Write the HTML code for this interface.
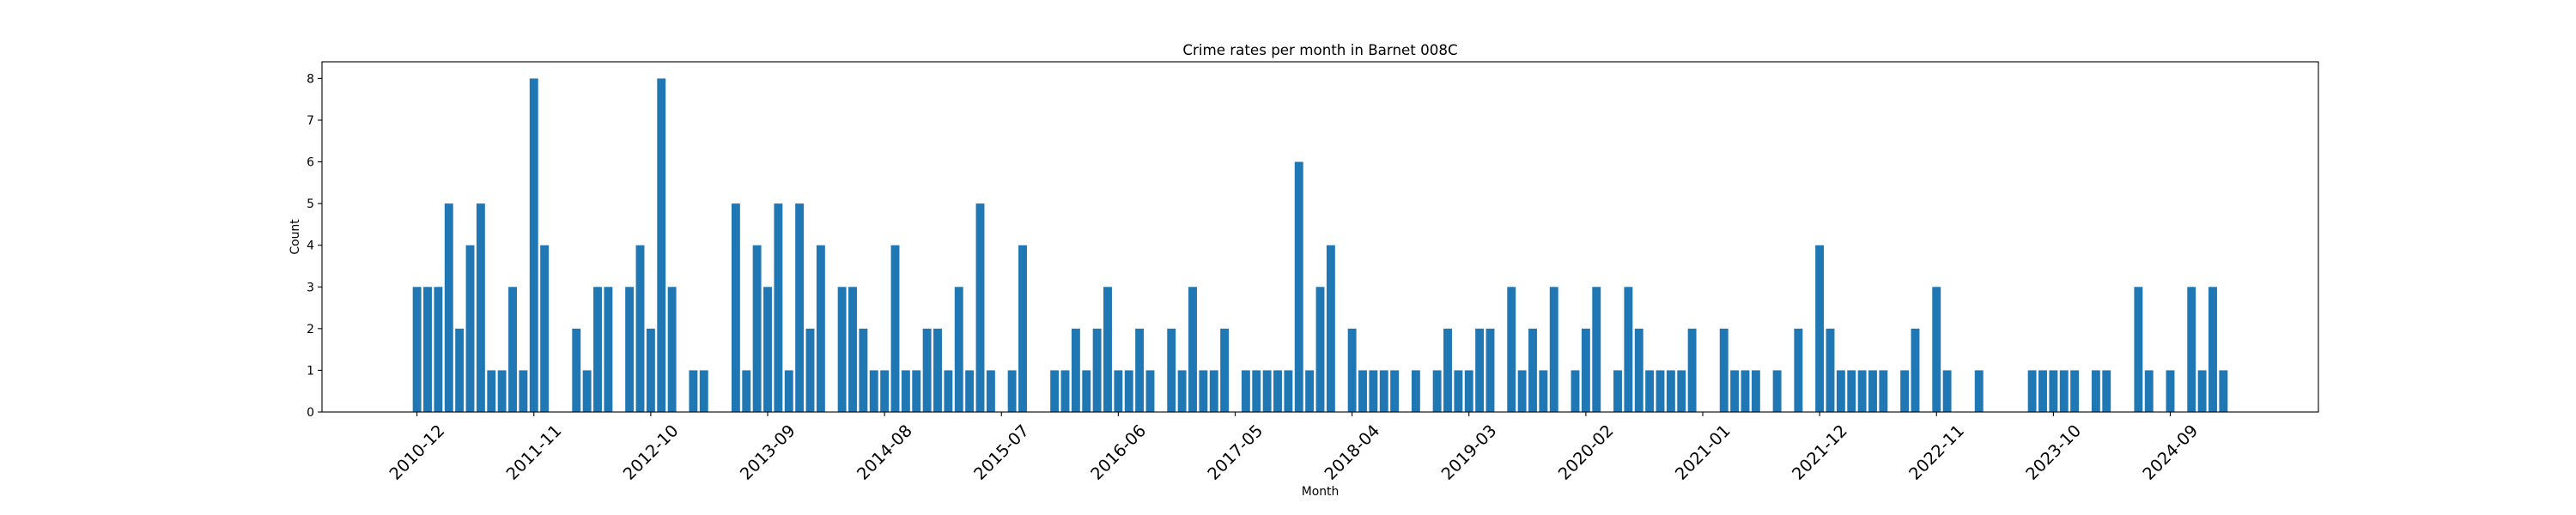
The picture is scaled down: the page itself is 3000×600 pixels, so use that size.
<!DOCTYPE html>
<html><head><meta charset="utf-8">
<style>
html,body{margin:0;padding:0;background:#fff;}
svg{display:block;font-family:"DejaVu Sans","Liberation Sans",sans-serif;}
</style></head>
<body>
<svg id="chart" width="3000" height="600" viewBox="0 0 3000 600" xmlns="http://www.w3.org/2000/svg">
<rect x="0" y="0" width="3000" height="600" fill="#fff"/>
<text x="1537.5" y="64" font-size="16.7" text-anchor="middle">Crime rates per month in Barnet 008C</text>
<g id="bars"></g>
<g id="axes"></g>
<text x="1537.5" y="577" font-size="13.9" text-anchor="middle">Month</text>
<text x="0" y="0" font-size="13.9" text-anchor="middle" transform="translate(348,276) rotate(-90)">Count</text>
</svg>
<script>
const startYear = 2010;
const startMonth = 12;
const counts = [3,3,3,5,2,4,5,1,1,3,1,8,4,0,0,2,1,3,3,0,3,4,2,8,3,0,1,1,0,0,
5,1,4,3,5,1,5,2,4,0,3,3,2,1,1,4,1,1,2,2,1,3,1,5,1,0,1,4,0,0,
1,1,2,1,2,3,1,1,2,1,0,2,1,3,1,1,2,0,1,1,1,1,1,6,1,3,4,0,2,1,
1,1,1,0,1,0,1,2,1,1,2,2,0,3,1,2,1,3,0,1,2,3,0,1,3,2,1,1,1,1,
2,0,0,2,1,1,1,0,1,0,2,0,4,2,1,1,1,1,1,0,1,2,0,3,1,0,0,1,0,0,
0,0,1,1,1,1,1,0,1,1,0,0,3,1,0,1,0,3,1,3,1];
const yTicks = [0,1,2,3,4,5,6,7,8];
const xTickEvery = 11;

const NS = "http://www.w3.org/2000/svg";
const L = 375, R = 2700, T = 72, B = 480;
const n = counts.length;
const span = (n - 1) + 0.8;
const xmin = -0.4 - 0.05 * span, xmax = (n - 1) + 0.4 + 0.05 * span;
const ymax = Math.max(...counts) * 1.05;
function xs(v){ return L + (v - xmin) / (xmax - xmin) * (R - L); }
function ys(v){ return B - v / ymax * (B - T); }
function monthLabel(i){
  const t = (startYear * 12 + (startMonth - 1)) + i;
  const y = Math.floor(t / 12), m = t % 12 + 1;
  return y + "-" + (m < 10 ? "0" + m : m);
}
const barsG = document.getElementById("bars");
const axesG = document.getElementById("axes");
const bw = 0.8 * (R - L) / (xmax - xmin);
counts.forEach((c, i) => {
  const r = document.createElementNS(NS, "rect");
  
  
  r.setAttribute("x", xs(i) - bw / 2);
  r.setAttribute("y", ys(c));
  r.setAttribute("width", bw);
  r.setAttribute("height", ys(0) - ys(c));
  r.setAttribute("fill", "#1f77b4");
  barsG.appendChild(r);
});
// frame
const frame = document.createElementNS(NS, "rect");


frame.setAttribute("x", L); frame.setAttribute("y", T);
frame.setAttribute("width", R - L); frame.setAttribute("height", B - T);
frame.setAttribute("fill", "none"); frame.setAttribute("stroke", "#000"); frame.setAttribute("stroke-width", "1.1");
axesG.appendChild(frame);
// y ticks
yTicks.forEach(v => {
  const y = ys(v);
  const ln = document.createElementNS(NS, "line");
  
  
  ln.setAttribute("x1", L - 4.9); ln.setAttribute("x2", L);
  ln.setAttribute("y1", y); ln.setAttribute("y2", y);
  ln.setAttribute("stroke", "#000"); ln.setAttribute("stroke-width", "1.1");
  axesG.appendChild(ln);
  const t = document.createElementNS(NS, "text");
  
  
  t.setAttribute("x", L - 9); t.setAttribute("y", y + 5);
  t.setAttribute("font-size", "13.9"); t.setAttribute("text-anchor", "end");
  t.textContent = v;
  axesG.appendChild(t);
});
// x ticks
for (let i = 0; i < n; i += xTickEvery) {
  const x = xs(i);
  const ln = document.createElementNS(NS, "line");
  
  
  ln.setAttribute("x1", x); ln.setAttribute("x2", x);
  ln.setAttribute("y1", B); ln.setAttribute("y2", B + 4.9);
  ln.setAttribute("stroke", "#000"); ln.setAttribute("stroke-width", "1.1");
  axesG.appendChild(ln);
  const t = document.createElementNS(NS, "text");
  
  
  t.setAttribute("x", 0); t.setAttribute("y", 0);
  t.setAttribute("font-size", "19.4"); t.setAttribute("text-anchor", "middle");
  t.setAttribute("dominant-baseline", "central");
  t.setAttribute("transform", "translate(" + x + "," + 527 + ") rotate(-45)");
  t.textContent = monthLabel(i);
  axesG.appendChild(t);
}
</script>
</body></html>
